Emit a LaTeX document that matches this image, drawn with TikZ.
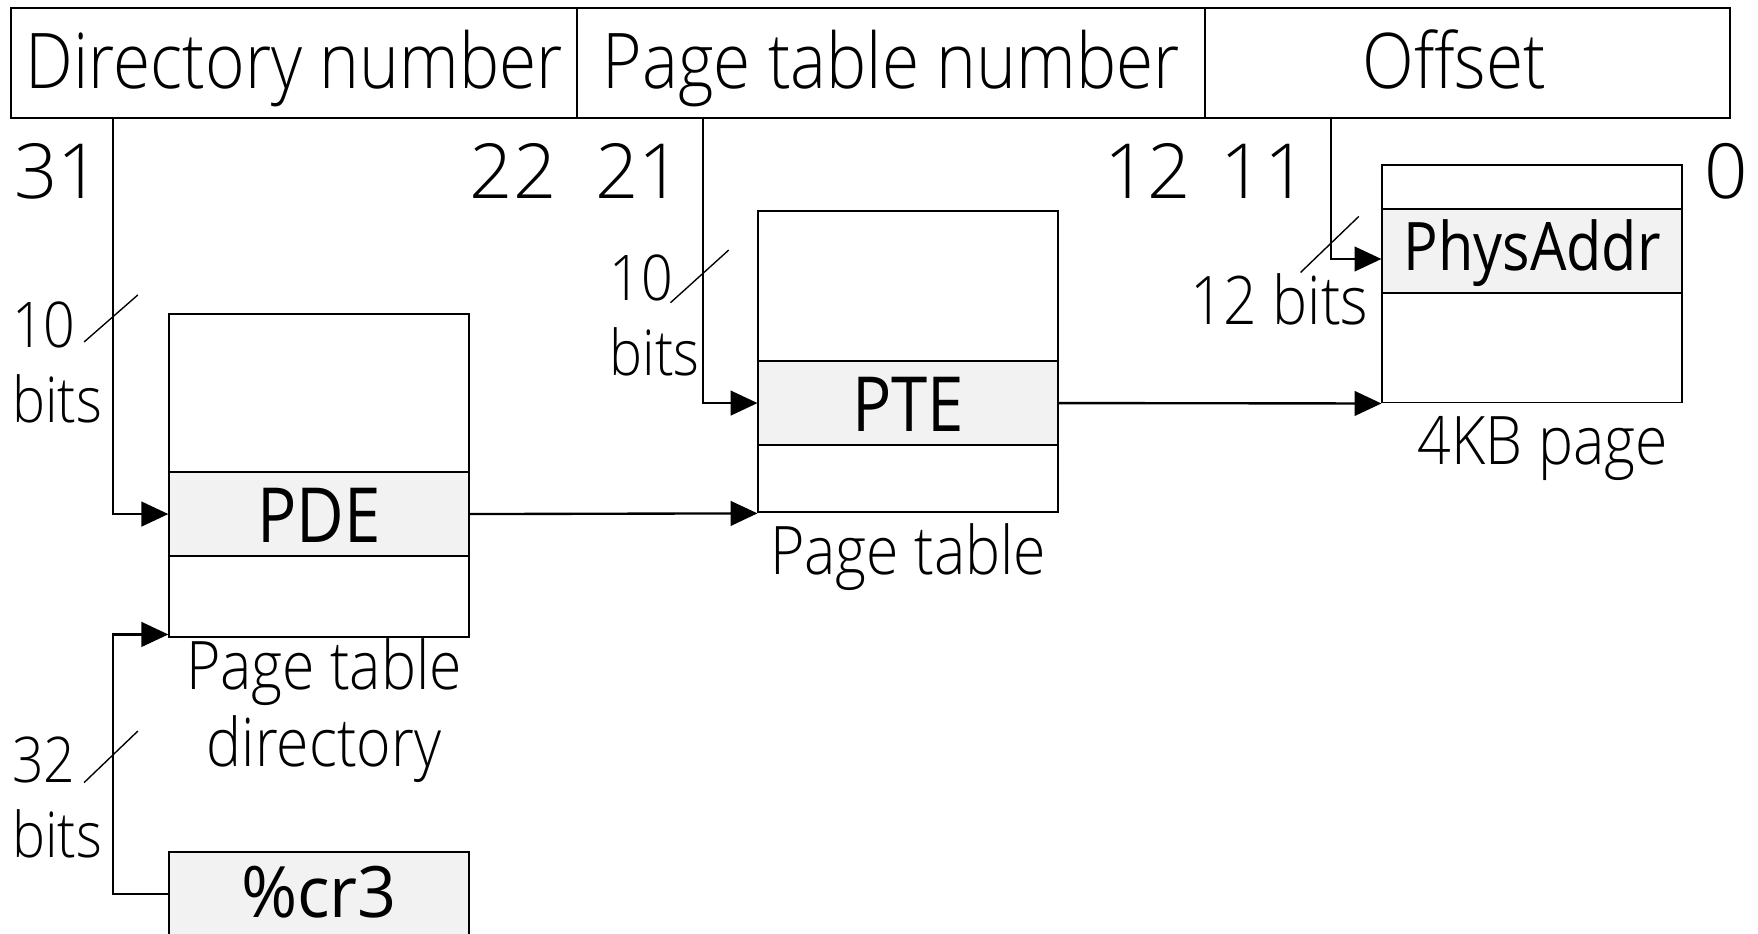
\documentclass[tikz,border=0pt]{standalone}
\usepackage{fontspec}
\setmainfont{Open Sans Light}
\newfontfamily\lightfont{Open Sans Light}[FakeStretch=0.88]
\newfontfamily\regfont{Open Sans}[FakeStretch=0.86]
\usetikzlibrary{arrows.meta}

\begin{document}
\begin{tikzpicture}[x=0.1mm, y=-0.1mm,
  every node/.style={inner sep=0pt},
  big/.style={font=\fontsize{19.3}{22}\selectfont},
  small/.style={font=\lightfont\fontsize{16}{19.06}\selectfont},
  capt/.style={font=\lightfont\fontsize{17}{19.5}\selectfont},
  field/.style={draw, line width=0.5pt, minimum height=9.8mm, text height=4.56mm, text depth=0pt, font=\lightfont\fontsize{19.5}{22}\selectfont},
  tbl/.style={draw, line width=0.5pt, minimum width=26.7mm},
  entry/.style={draw, line width=0.5pt, fill=gray!10, minimum width=26.7mm, minimum height=7.5mm, text height=5.1mm, text depth=0pt, font=\regfont\fontsize{19.3}{22}\selectfont},
  arr/.style={-{Triangle[length=2.4mm,width=2.2mm]}, line width=0.6pt},
  bus/.style={line width=0.35pt}]
\useasboundingbox (0,0) rectangle (1568,833);

\node[field, minimum width=50.5mm] (dirnum) at (262.5,56) {Directory number};
\node[field, minimum width=56mm] (ptnum) at (795,56) {Page table number};
\node[field, minimum width=46.8mm] (offset) at (1309,56) {Offset\kern2.4mm};

\node[big, anchor=base west] (b31) at (12,177) {31};
\node[big, anchor=base east] (b22) at (497,177) {22};
\node[big, anchor=base west] (b21) at (530,177) {21};
\node[big, anchor=base east] (b12) at (1063,177) {12};
\node[big, anchor=base west] (b11) at (1088,177) {11};
\node[big, anchor=base east] (b0) at (1560,177) {0};

\node[tbl, minimum height=28.8mm] (pd) at (284.5,424) {};
\node[entry] (pde) at (284.5,458.5) {PDE};
\node[tbl, minimum height=26.9mm] (pt) at (810,322.5) {};
\node[entry] (pte) at (810,359.5) {PTE};
\node[tbl, minimum height=21.2mm] (page) at (1366.5,253) {};
\node[entry, text height=3.4mm, font=\regfont\fontsize{17}{20}\selectfont] (phys) at (1366.5,224) {PhysAddr};
\node[entry, text height=4.1mm, font=\regfont\fontsize{18}{20}\selectfont] (cr3) at (284.5,797.5) {\scalebox{1.12}[1]{\%cr3}};

\node[capt, align=center] (pdcap) at (289,634) {Page table\\directory};
\node[capt] (ptcap) at (810,497) {Page table};
\node[capt] (pagecap) at (1376,400) {4KB page};

\node[small, align=left, anchor=west] (dirbits) at (10,323) {10\\bits};
\node[small, align=left, anchor=west] (ptbits) at (543,281) {10\\bits};
\node[capt] (offbits) at (1141,267) {12 bits};
\node[small, align=left, anchor=west] (cr3bits) at (10,711) {32\\bits};

\coordinate (dirtap) at (101,105);
\coordinate (pttap) at (627,105);
\coordinate (offtap) at (1187,105);
\draw[arr] (dirtap) |- (pde.west);
\draw[arr] (pttap) |- (pte.west);
\draw[arr] (offtap) |- ([yshift=-0.7mm]phys.west);
\draw[arr] (pde.east) -- (pt.south west);
\draw[arr] (pte.east) -- (page.south west);
\draw[arr] (cr3.west) -- (cr3.west -| dirtap) |- ([yshift=0.3mm]pd.south west);

\draw[bus] (75,305) -- (123,263);
\draw[bus] (598,270) -- (650,223);
\draw[bus] (1160,243) -- (1212,193);
\draw[bus] (75,698) -- (123,652);
\end{tikzpicture}
\end{document}
